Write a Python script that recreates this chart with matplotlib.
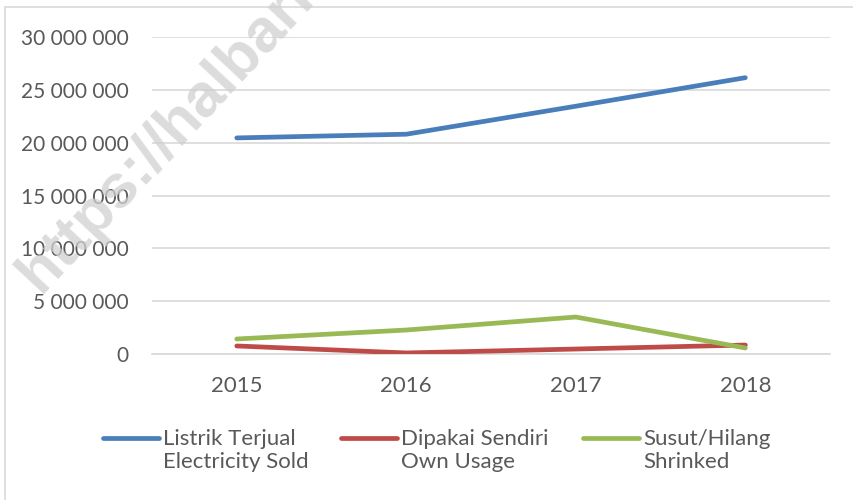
import matplotlib
matplotlib.use("Agg")
import matplotlib.pyplot as plt
from matplotlib.patches import Rectangle
from matplotlib.lines import Line2D
from matplotlib.legend_handler import HandlerLine2D
from matplotlib.ticker import FuncFormatter, MultipleLocator

years = ["2015", "2016", "2017", "2018"]
sold = [20450000, 20800000, 23450000, 26150000]
own = [760000, 100000, 470000, 850000]
shrink = [1420000, 2270000, 3500000, 570000]
labels = ["Listrik Terjual\nElectricity Sold", "Dipakai Sendiri\nOwn Usage", "Susut/Hilang\nShrinked"]
colors = ["#4a7ebb", "#be4b48", "#98b954"]

plt.rcParams['font.family'] = ['Lato', 'DejaVu Sans']
FS = 16
TXT = '#595959'

fig = plt.figure(figsize=(8.54, 5.0), dpi=100)
ax = fig.add_axes([0.178, 0.292, 0.794, 0.634])

x = range(len(years))
lines = []
for vals, lab, c in zip([sold, own, shrink], labels, colors):
    ln, = ax.plot(x, vals, color=c, lw=3.4, label=lab, solid_capstyle='round', zorder=3)
    lines.append(ln)

ax.set_xlim(-0.5, 3.5)
ax.set_ylim(0, 30000000)
ax.yaxis.set_major_locator(MultipleLocator(5000000))
ax.yaxis.set_major_formatter(FuncFormatter(lambda v, p: f"{int(v):,}".replace(",", " ")))
ax.set_xticks(list(x))
ax.set_xticklabels(years)
ax.grid(axis='y', color='#d9d9d9', lw=1.2)
ax.set_axisbelow(True)
for s in ['top', 'right', 'left']:
    ax.spines[s].set_visible(False)
ax.spines['bottom'].set_color('#d9d9d9')
ax.spines['bottom'].set_linewidth(1.2)
ax.tick_params(axis='both', length=0, labelcolor=TXT)
ax.tick_params(axis='x', pad=16, labelsize=FS)
ax.tick_params(axis='y', pad=17, labelsize=15)


class UpHandler(HandlerLine2D):
    def create_artists(self, legend, orig_handle, xdescent, ydescent, width, height, fontsize, trans):
        arts = super().create_artists(legend, orig_handle, xdescent, ydescent, width, height, fontsize, trans)
        for a in arts:
            if isinstance(a, Line2D):
                a.set_ydata([v + 0.58 * fontsize for v in a.get_ydata()])
        return arts


leg_x = [103, 341, 583]
for ln, lx in zip(lines, leg_x):
    lg = fig.legend(handles=[ln], loc='upper left', bbox_to_anchor=(lx / 854, 1 - 429 / 500),
                    frameon=False, borderpad=0, borderaxespad=0, fontsize=FS,
                    handlelength=2.5, handletextpad=0.22, labelcolor=TXT,
                    handler_map={Line2D: UpHandler()})
    for t in lg.get_texts():
        t.set_linespacing(1.17)

fig.patches.append(Rectangle((5 / 854, -0.1), 1.0, 1 - 7 / 500 + 0.1, transform=fig.transFigure,
                             fill=False, edgecolor='#d9d9d9', lw=1.2))

fig.text(40 / 854, 1 - 294 / 500, "https://halbarkab.bps.go.id", rotation=47, fontsize=44,
         fontweight='bold', family=['Liberation Sans', 'DejaVu Sans'],
         color='#d0d0d0', alpha=0.75, ha='left', va='baseline', rotation_mode='anchor', zorder=10)

fig.savefig("out.png", dpi=100)
